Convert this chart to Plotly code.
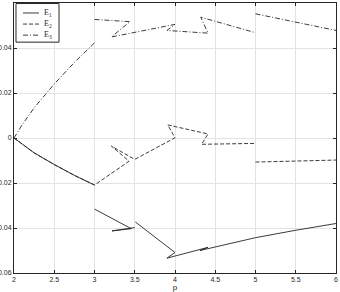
import plotly.graph_objects as go

# E1 (solid)
E1_x = [2.0, 2.1, 2.25, 2.5, 2.75, 3.0, None,
        3.0, 3.457, 3.217, 3.5, None,
        3.507, 4.0, 3.9, 4.41, 4.31, 5.0, 5.5, 6.0]
E1_y = [0.0, -0.0028, -0.0066, -0.0118, -0.0166, -0.0209, None,
        -0.0316, -0.0403, -0.0413, -0.0398, None,
        -0.0373, -0.0509, -0.0534, -0.0486, -0.0500, -0.0443, -0.0410, -0.0380]

# E2 (dashed)
E2_x = [2.0, 2.1, 2.25, 2.5, 2.75, 3.0, 3.43, 3.21, 3.5, 4.0, 3.91, 4.41, 4.33, 5.0, None,
        5.0, 6.0]
E2_y = [0.0, -0.0028, -0.0066, -0.0118, -0.0166, -0.0209, -0.0103, -0.0036, -0.0095,
        0.0001, 0.0058, 0.0018, -0.0028, -0.0024, None,
        -0.0107, -0.0098]

# E3 (dash-dot)
E3_x = [2.0, 2.1, 2.25, 2.5, 2.75, 3.0, None,
        3.0, 3.44, 3.21, 4.0, 3.9, 4.41, 4.32, 5.0, None,
        5.0, 6.0]
E3_y = [0.0, 0.0058, 0.0134, 0.0240, 0.0336, 0.0423, None,
        0.0527, 0.0517, 0.0449, 0.0505, 0.0478, 0.0466, 0.0537, 0.0468, None,
        0.0552, 0.0478]

names = ["E<sub>1</sub>", "E<sub>2</sub>", "E<sub>3</sub>"]
x_ticks = [2, 2.5, 3, 3.5, 4, 4.5, 5, 5.5, 6]
y_ticks = [-0.06, -0.04, -0.02, 0, 0.02, 0.04, 0.06]

line_col = "#262626"
dashes = ["solid", "4px,2px", "5px,2px,1px,2px"]
series = [(E1_x, E1_y), (E2_x, E2_y), (E3_x, E3_y)]

fig = go.Figure()
for (xs, ys), nm, ds in zip(series, names, dashes):
    fig.add_trace(go.Scatter(x=xs, y=ys, mode="lines", name=nm, showlegend=False,
                             line=dict(color=line_col, width=0.9, dash=ds)))

# compact legend box (MATLAB style), in plot-area domain coordinates
shapes = [dict(type="rect", xref="x domain", yref="y domain",
               x0=0.0062, x1=0.1398, y0=0.855, y1=0.998,
               line=dict(color=line_col, width=1), fillcolor="white", layer="above")]
annotations = []
leg_y = [0.963, 0.922, 0.881]
for nm, ds, ly in zip(names, dashes, leg_y):
    shapes.append(dict(type="line", xref="x domain", yref="y domain",
                       x0=0.028, x1=0.0776, y0=ly, y1=ly, layer="above",
                       line=dict(color=line_col, width=0.9, dash=ds)))
    annotations.append(dict(xref="x domain", yref="y domain", x=0.086, y=ly,
                            xanchor="left", yanchor="middle", showarrow=False,
                            text=nm,
                            font=dict(family="Liberation Serif, Times New Roman",
                                      size=8, color=line_col)))

axis_common = dict(
    showgrid=True, gridcolor="#e3e3e3", gridwidth=1,
    zeroline=False, showline=True, linecolor="#262626", linewidth=1,
    mirror="allticks", ticks="inside", ticklen=3, tickcolor="#262626",
    tickfont=dict(family="Liberation Sans, Arial", size=7, color="#262626"),
)

fig.update_layout(
    width=340, height=292,
    margin=dict(l=14, r=4, t=3, b=19),
    paper_bgcolor="white", plot_bgcolor="white",
    showlegend=False,
    shapes=shapes, annotations=annotations,
    xaxis=dict(range=[2, 6], tickvals=x_ticks,
               ticktext=[str(v) for v in x_ticks],
               title=dict(text="p", standoff=0,
                          font=dict(family="Liberation Sans, Arial", size=8, color="#262626")),
               automargin=False, **axis_common),
    yaxis=dict(range=[-0.06, 0.06], tickvals=y_ticks,
               ticktext=["\u22120.06", "\u22120.04", "\u22120.02", "0", "0.02", "0.04", "0.06"],
               automargin=False, **axis_common),
)

fig.write_html("out.html")
